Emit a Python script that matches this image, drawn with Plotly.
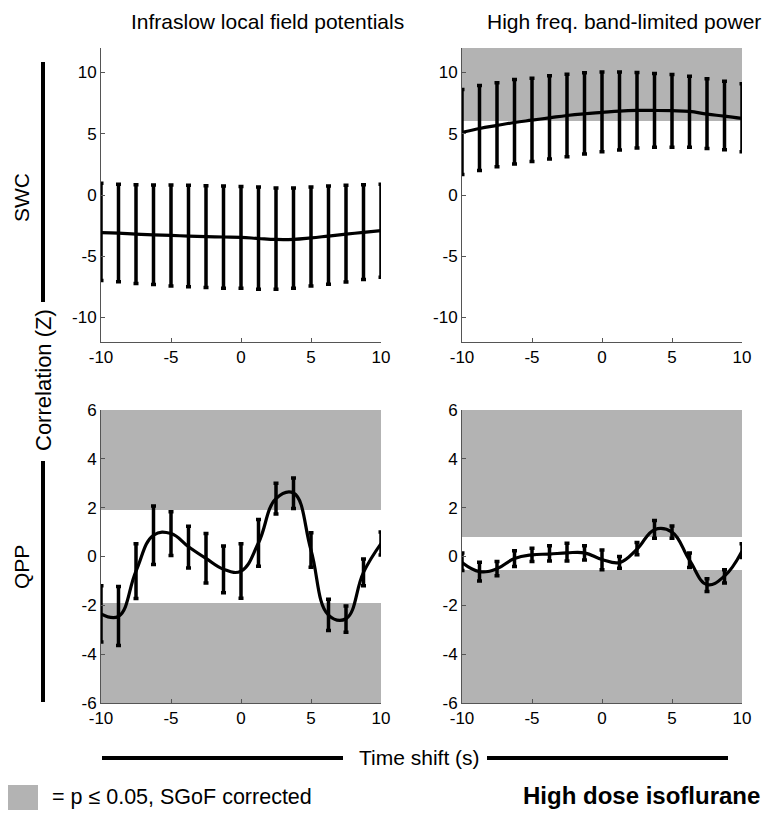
import plotly.graph_objects as go

# ---------------- data ----------------
time_shift = [-10, -8.75, -7.5, -6.25, -5, -3.75, -2.5, -1.25, 0,
              1.25, 2.5, 3.75, 5, 6.25, 7.5, 8.75, 10]

# SWC - Infraslow LFP
swc_lfp_mean = [-3.07, -3.12, -3.2, -3.25, -3.3, -3.35, -3.4, -3.43, -3.46,
                -3.55, -3.63, -3.62, -3.5, -3.35, -3.2, -3.05, -2.9]
swc_lfp_upper = [0.95, 0.87, 0.84, 0.82, 0.82, 0.79, 0.76, 0.73, 0.70,
                 0.65, 0.57, 0.57, 0.65, 0.73, 0.79, 0.84, 0.87]
swc_lfp_lower = [-6.98, -7.09, -7.23, -7.31, -7.42, -7.5, -7.55, -7.61, -7.61,
                 -7.69, -7.69, -7.61, -7.42, -7.28, -7.1, -6.9, -6.72]

# SWC - High freq BLP
swc_blp_mean = [5.11, 5.43, 5.68, 5.92, 6.11, 6.3, 6.49, 6.63, 6.74,
                6.85, 6.9, 6.9, 6.88, 6.82, 6.6, 6.44, 6.25]
swc_blp_upper = [8.61, 8.94, 9.16, 9.43, 9.54, 9.73, 9.86, 9.97, 10.05,
                 10.05, 10.0, 9.92, 9.84, 9.7, 9.48, 9.29, 9.08]
swc_blp_lower = [1.68, 2.01, 2.31, 2.53, 2.74, 2.93, 3.13, 3.34, 3.53,
                 3.67, 3.83, 3.89, 3.89, 3.89, 3.8, 3.7, 3.53]

# QPP - Infraslow LFP
qpp_lfp_mean = [-2.35, -2.45, -0.6, 0.87, 0.94, 0.4, -0.08, -0.52, -0.6,
                0.56, 2.37, 2.6, 0.26, -2.4, -2.55, -0.65, 0.53]
qpp_lfp_upper = [-1.2, -1.23, 0.52, 2.07, 1.83, 1.24, 0.94, 0.43, 0.52,
                 1.52, 3.0, 3.21, 0.97, -1.75, -2.03, -0.1, 1.0]
qpp_lfp_lower = [-3.5, -3.64, -1.72, -0.33, 0.04, -0.47, -1.09, -1.48, -1.71,
                 -0.4, 1.74, 1.97, -0.44, -3.03, -3.1, -1.2, 0.06]

# QPP - High freq BLP
qpp_blp_mean = [-0.25, -0.62, -0.5, -0.08, 0.07, 0.1, 0.15, 0.15, -0.12,
                -0.25, 0.3, 1.1, 1.0, -0.15, -1.15, -0.8, 0.22]
qpp_blp_upper = [0.14, -0.24, -0.2, 0.24, 0.34, 0.44, 0.54, 0.44, 0.27,
                 0.0, 0.57, 1.47, 1.25, 0.14, -0.91, -0.54, 0.52]
qpp_blp_lower = [-0.57, -1.0, -0.79, -0.41, -0.2, -0.18, -0.18, -0.14, -0.54,
                 -0.48, 0.07, 0.75, 0.75, -0.45, -1.43, -1.09, -0.04]

# significance thresholds (None = no shaded region)
swc_range = [-12, 12]
qpp_range = [-6, 6]
swc_lfp_sig = [None, None]
swc_blp_sig = [None, 6.05]
qpp_lfp_sig = [-1.9, 1.9]
qpp_blp_sig = [-0.55, 0.8]

x_ticks = [-10, -5, 0, 5, 10]
x_ticklabels = ["-10", "-5", "0", "5", "10"]
swc_ticks = [-10, -5, 0, 5, 10]
swc_ticklabels = ["-10", "-5", "0", "5", "10"]
qpp_ticks = [-6, -4, -2, 0, 2, 4, 6]
qpp_ticklabels = ["-6", "-4", "-2", "0", "2", "4", "6"]

col_titles = ["Infraslow local field potentials", "High freq. band-limited power"]
row_titles = ["SWC", "QPP"]

# ---------------- figure ----------------
OFF = 8                     # default page body margin
W, H = 771 - 2 * OFF, 818 - 2 * OFF
FONT = "Liberation Sans, Arial, sans-serif"
GRAY = "#b3b3b3"


def PX(X):
    return (X - OFF) / W


def PY(Y):
    return 1 - (Y - OFF) / H


fig = go.Figure()

panels = [
    ("x", "y", swc_lfp_mean, swc_lfp_upper, swc_lfp_lower, swc_lfp_sig, swc_range),
    ("x2", "y2", swc_blp_mean, swc_blp_upper, swc_blp_lower, swc_blp_sig, swc_range),
    ("x3", "y3", qpp_lfp_mean, qpp_lfp_upper, qpp_lfp_lower, qpp_lfp_sig, qpp_range),
    ("x4", "y4", qpp_blp_mean, qpp_blp_upper, qpp_blp_lower, qpp_blp_sig, qpp_range),
]

shapes = []
for xa, ya, m, up, lo, sig, rng in panels:
    lo_thr, hi_thr = sig
    if hi_thr is not None:
        shapes.append(dict(type="rect", xref=xa, yref=ya, x0=-10, x1=10,
                           y0=hi_thr, y1=rng[1], fillcolor=GRAY,
                           line=dict(width=0), layer="below"))
    if lo_thr is not None:
        shapes.append(dict(type="rect", xref=xa, yref=ya, x0=-10, x1=10,
                           y0=rng[0], y1=lo_thr, fillcolor=GRAY,
                           line=dict(width=0), layer="below"))
    fig.add_trace(go.Scatter(
        x=time_shift, y=m, xaxis=xa, yaxis=ya, mode="lines",
        line=dict(color="black", width=3.2, shape="spline", smoothing=1.2),
        error_y=dict(type="data", symmetric=False,
                     array=[u - v for u, v in zip(up, m)],
                     arrayminus=[v - l for v, l in zip(m, lo)],
                     color="black", thickness=3.5, width=2.5),
        showlegend=False, hoverinfo="skip"))

xdom = [[PX(101), PX(381)], [PX(462), PX(742)]]
ydom = [[PY(342), PY(48)], [PY(703), PY(410)]]

axis_common = dict(showline=True, linecolor="#555555", linewidth=1,
                   ticks="inside", ticklen=4, tickcolor="#555555",
                   showgrid=False, zeroline=False, mirror=False,
                   automargin=False,
                   tickfont=dict(family=FONT, size=17, color="black"))

layout = dict(template="none", width=W, height=H,
              margin=dict(l=0, r=0, t=0, b=0, pad=0, autoexpand=False),
              plot_bgcolor="white", paper_bgcolor="white",
              font=dict(family=FONT, color="black"))

for i, (xa, ya, m, up, lo, sig, rng) in enumerate(panels):
    r, c = divmod(i, 2)
    xk = "xaxis" if i == 0 else f"xaxis{i+1}"
    yk = "yaxis" if i == 0 else f"yaxis{i+1}"
    layout[xk] = dict(domain=xdom[c], anchor=ya, range=[-10, 10],
                      tickvals=x_ticks, ticktext=x_ticklabels, **axis_common)
    layout[yk] = dict(domain=ydom[r], anchor=xa, range=rng,
                      tickvals=swc_ticks if r == 0 else qpp_ticks,
                      ticktext=swc_ticklabels if r == 0 else qpp_ticklabels,
                      **axis_common)

# decorative bars
bar = dict(color="black", width=4)
shapes += [
    dict(type="line", xref="paper", yref="paper", x0=PX(43), x1=PX(43),
         y0=PY(302), y1=PY(62), line=bar),
    dict(type="line", xref="paper", yref="paper", x0=PX(43), x1=PX(43),
         y0=PY(702), y1=PY(461), line=bar),
    dict(type="line", xref="paper", yref="paper", x0=PX(102), x1=PX(343),
         y0=PY(758), y1=PY(758), line=bar),
    dict(type="line", xref="paper", yref="paper", x0=PX(487), x1=PX(728),
         y0=PY(758), y1=PY(758), line=bar),
    dict(type="rect", xref="paper", yref="paper", x0=PX(8), x1=PX(38),
         y0=PY(810), y1=PY(785), fillcolor=GRAY, line=dict(width=0)),
]
layout["shapes"] = shapes

ann = [
    dict(text=col_titles[0], x=PX(267), y=PY(21), size=21),
    dict(text=col_titles[1], x=PX(624), y=PY(21), size=21),
    dict(text=row_titles[0], x=PX(21), y=PY(198), size=21, angle=-90),
    dict(text=row_titles[1], x=PX(21), y=PY(567), size=21, angle=-90),
    dict(text="Correlation (Z)", x=PX(43), y=PY(380), size=22, angle=-90),
    dict(text="Time shift (s)", x=PX(419), y=PY(757), size=21),
    dict(text="= p \u2264 0.05, SGoF corrected", x=PX(50), y=PY(797),
         size=21.5, xanchor="left"),
    dict(text="<b>High dose isoflurane</b>", x=PX(762), y=PY(795),
         size=24, xanchor="right"),
]
layout["annotations"] = [
    dict(text=a["text"], x=a["x"], y=a["y"], xref="paper", yref="paper",
         xanchor=a.get("xanchor", "center"), yanchor="middle",
         textangle=a.get("angle", 0), showarrow=False,
         font=dict(family=FONT, size=a["size"], color="black"))
    for a in ann
]

fig.update_layout(**layout)
fig.write_html("out.html")
